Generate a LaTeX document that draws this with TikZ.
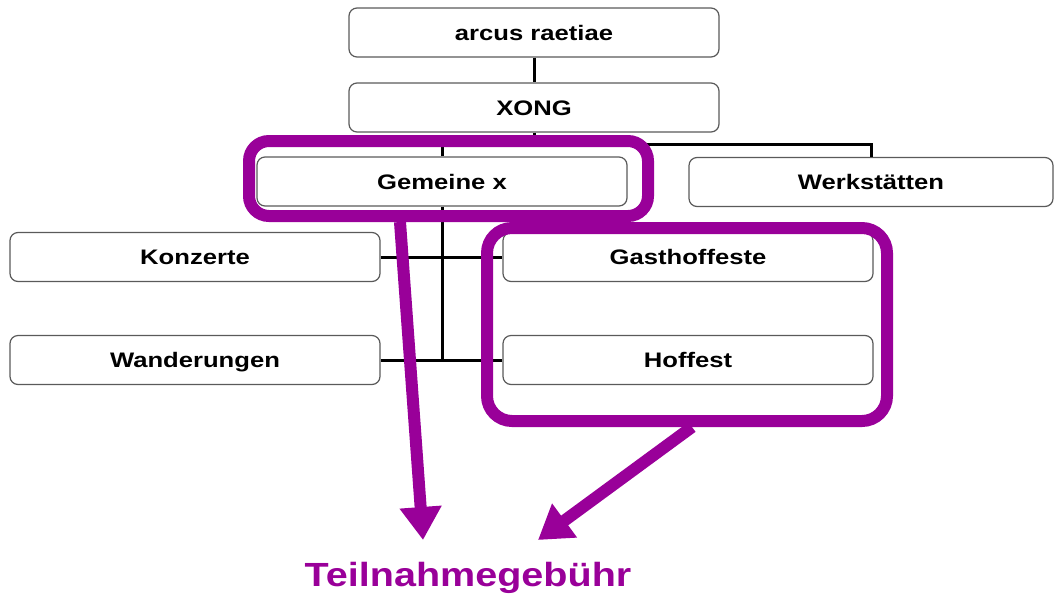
\documentclass[tikz,border=0pt]{standalone}
\usepackage{fontspec}
\newfontfamily\boxfont[FakeStretch=1.22]{Liberation Sans}
\newfontfamily\bigfont[FakeStretch=1.18]{Liberation Sans}
\usetikzlibrary{arrows.meta}
\definecolor{hlpurple}{RGB}{153,0,153}
\definecolor{boxgray}{RGB}{90,90,90}
\tikzset{
  orgbox/.style={draw=boxgray, line width=1.2pt, rounded corners=8pt, fill=white,
    minimum width=370pt, minimum height=49pt, inner sep=0pt,
    text height=15pt, text depth=0pt,
    font=\boxfont\bfseries\fontsize{21}{24}\selectfont},
  link/.style={line width=3pt, black},
  hlbox/.style={draw=hlpurple, line width=12pt, rounded corners=#1, inner sep=0pt},
  hlarrow/.style={draw=hlpurple, line width=12pt, -{Triangle[length=33pt,width=40pt]}, hlpurple},
}
\begin{document}
\begin{tikzpicture}[x=1pt,y=-1pt]
\useasboundingbox (0,0) rectangle (1054,598);
% boxes
\node[orgbox] (ar) at (534,32.5) {arcus raetiae};
\node[orgbox] (xong) at (534,107.5) {XONG};
\node[orgbox] (gem) at (442,181.5) {Gemeine x};
\node[orgbox, minimum width=364pt] (werk) at (871,182) {Werkstätten};
\node[orgbox] (konz) at (195,257) {Konzerte};
\node[orgbox] (wand) at (195,360) {Wanderungen};
\node[orgbox] (gast) at (688,257) {Gasthoffeste};
\node[orgbox] (hoff) at (688,360) {Hoffest};
% connectors
\draw[link] (ar) -- (xong);
\draw[link] (xong.south) -- ++(0,13);
\draw[link] (gem.north) -- ++(0,-12) -| (werk.north);
\draw[link] (gem.south) -- (gem.south |- wand.east);
\draw[link] (konz.east) -- (gast.west);
\draw[link] (wand.east) -- (hoff.west);
% highlight frames
\node[hlbox=20pt, minimum width=399pt, minimum height=75pt] (hl1) at (448.5,178.5) {};
\node[hlbox=25pt, minimum width=400pt, minimum height=193pt] (hl2) at (687,324.5) {};
% label and arrows
\node[text=hlpurple, font=\bigfont\bfseries\fontsize{33.5}{38}\selectfont, inner sep=0pt] (fee) at (468,578) {Teilnahmegebühr};
\coordinate (tip1) at (423,540);
\coordinate (tip2) at (538,540);
\draw[hlarrow] ([xshift=-48.5pt]hl1.south) -- (tip1);
\draw[hlarrow] ([xshift=5pt]hl2.south) -- (tip2);
\end{tikzpicture}
\end{document}
